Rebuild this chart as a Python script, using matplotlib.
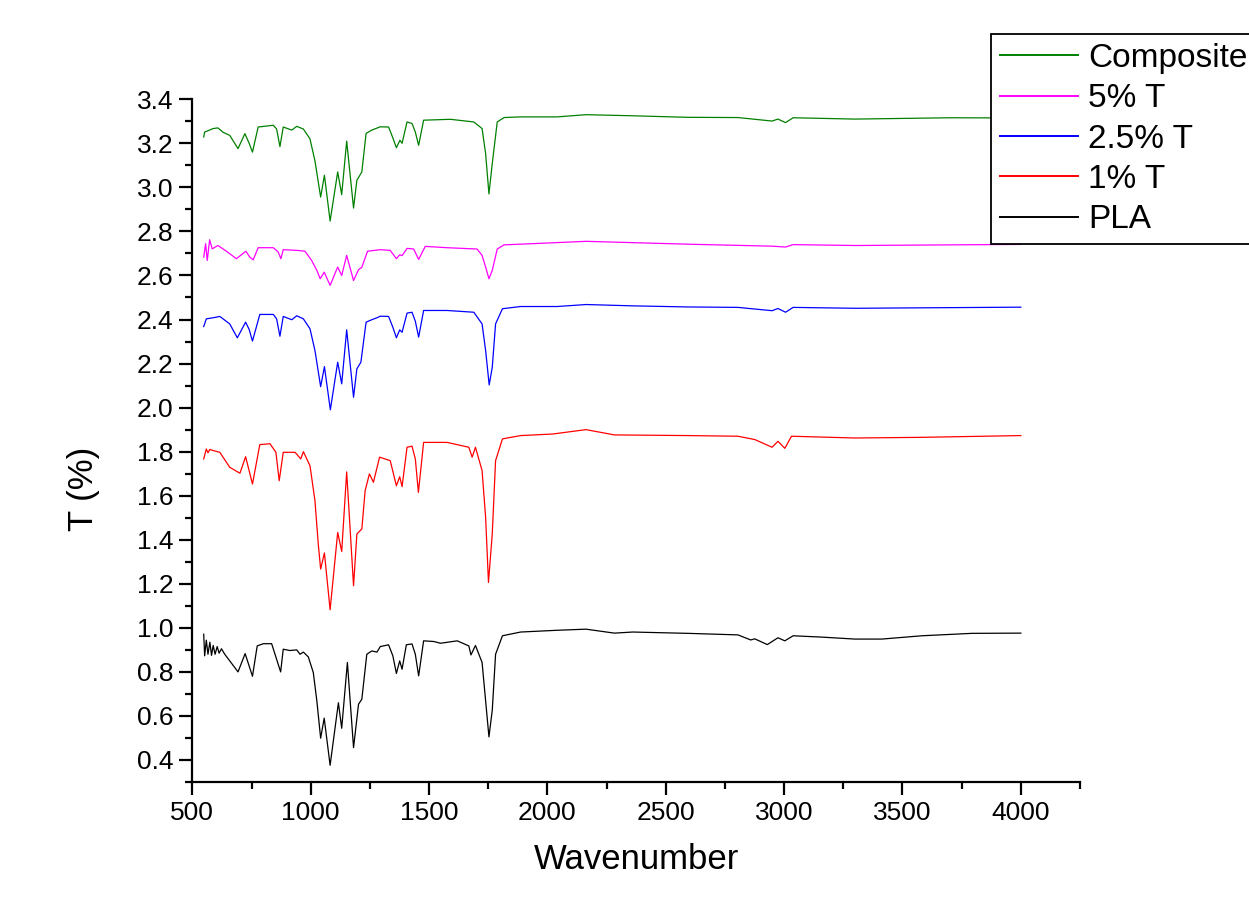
import matplotlib
matplotlib.use("Agg")
import matplotlib.pyplot as plt
from matplotlib.ticker import MultipleLocator

plt.rcParams['font.family'] = ['Liberation Sans', 'DejaVu Sans']

# values (wavenumber, transmittance)
WN_PLA = [548, 552, 559, 566, 574, 581, 588, 596, 605, 613, 623, 637, 658, 693, 723,
          754, 774, 800, 835, 873, 884, 912, 941, 955, 969, 990, 1011, 1026, 1042, 1057,
          1082, 1117, 1131, 1155, 1181, 1202, 1216, 1237, 1258, 1280, 1294, 1329, 1347,
          1362, 1376, 1386, 1404, 1428, 1442, 1456, 1477, 1520, 1548, 1619, 1668, 1677,
          1696, 1724, 1739, 1753, 1767, 1781, 1810, 1887, 2042, 2163, 2283, 2360, 2593,
          2805, 2859, 2876, 2929, 2974, 3003, 3038, 3158, 3299, 3413, 3582, 3794, 4000]
T_PLA = [0.971, 0.873, 0.944, 0.88, 0.935, 0.875, 0.92, 0.88, 0.915, 0.885, 0.905, 0.88,
         0.85, 0.80, 0.883, 0.78, 0.918, 0.928, 0.928, 0.80, 0.903, 0.897, 0.90, 0.88,
         0.89, 0.868, 0.797, 0.668, 0.499, 0.59, 0.376, 0.66, 0.544, 0.843, 0.456, 0.653,
         0.676, 0.88, 0.895, 0.89, 0.915, 0.923, 0.873, 0.793, 0.85, 0.812, 0.923, 0.927,
         0.88, 0.782, 0.941, 0.938, 0.93, 0.941, 0.918, 0.877, 0.92, 0.843, 0.668, 0.505,
         0.626, 0.88, 0.964, 0.981, 0.989, 0.994, 0.976, 0.981, 0.975, 0.968, 0.945, 0.95,
         0.924, 0.955, 0.941, 0.964, 0.958, 0.949, 0.949, 0.964, 0.975, 0.976]

WN_1T = [548, 559, 566, 574, 588, 616, 658, 701, 725, 754, 785, 828, 853, 867, 884, 934,
         958, 969, 997, 1018, 1032, 1042, 1058, 1082, 1114, 1131, 1152, 1181, 1195, 1216,
         1230, 1248, 1265, 1291, 1336, 1362, 1376, 1386, 1407, 1428, 1442, 1455, 1477,
         1576, 1668, 1682, 1696, 1724, 1739, 1751, 1767, 1781, 1810, 1887, 2022, 2163,
         2283, 2593, 2805, 2876, 2949, 2974, 3003, 3031, 3299, 3582, 4000]
T_1T = [1.767, 1.812, 1.795, 1.81, 1.805, 1.797, 1.729, 1.702, 1.777, 1.653, 1.832, 1.836,
        1.797, 1.668, 1.797, 1.797, 1.767, 1.80, 1.736, 1.577, 1.38, 1.267, 1.34, 1.082,
        1.433, 1.347, 1.708, 1.191, 1.426, 1.449, 1.623, 1.699, 1.661, 1.775, 1.759, 1.645,
        1.686, 1.641, 1.82, 1.825, 1.767, 1.615, 1.842, 1.842, 1.82, 1.775, 1.82, 1.714,
        1.501, 1.206, 1.426, 1.759, 1.858, 1.873, 1.88, 1.90, 1.876, 1.873, 1.87, 1.855,
        1.82, 1.847, 1.815, 1.87, 1.862, 1.865, 1.873]

WN_25T = [548, 559, 588, 616, 658, 690, 725, 740, 754, 785, 842, 856, 870, 884, 920, 941,
          969, 997, 1018, 1042, 1058, 1083, 1114, 1131, 1152, 1181, 1195, 1212, 1234, 1258,
          1280, 1294, 1329, 1347, 1362, 1376, 1386, 1407, 1428, 1442, 1456, 1477, 1576,
          1689, 1724, 1739, 1754, 1767, 1781, 1810, 1887, 2042, 2163, 2360, 2593, 2805,
          2949, 2974, 3006, 3038, 3299, 4000]
T_25T = [2.368, 2.403, 2.408, 2.414, 2.38, 2.317, 2.388, 2.355, 2.302, 2.423, 2.423, 2.403,
         2.324, 2.414, 2.399, 2.417, 2.403, 2.358, 2.259, 2.095, 2.186, 1.99, 2.206, 2.108,
         2.353, 2.047, 2.176, 2.206, 2.388, 2.399, 2.408, 2.415, 2.414, 2.365, 2.317, 2.353,
         2.342, 2.429, 2.433, 2.392, 2.32, 2.441, 2.441, 2.433, 2.38, 2.259, 2.103, 2.183,
         2.38, 2.449, 2.459, 2.459, 2.468, 2.462, 2.457, 2.455, 2.44, 2.45, 2.433, 2.455,
         2.451, 2.456]

WN_5T = [548, 556, 563, 573, 584, 608, 644, 686, 726, 743, 757, 778, 842, 863, 874, 884,
         941, 976, 1004, 1026, 1040, 1057, 1082, 1114, 1131, 1152, 1181, 1202, 1216, 1240,
         1294, 1336, 1362, 1376, 1386, 1407, 1435, 1456, 1484, 1576, 1703, 1724, 1739,
         1753, 1767, 1788, 1817, 1930, 2163, 2593, 2949, 3006, 3038, 3299, 4000]
T_5T = [2.683, 2.744, 2.668, 2.762, 2.721, 2.736, 2.71, 2.676, 2.71, 2.683, 2.671, 2.726,
        2.726, 2.706, 2.676, 2.717, 2.714, 2.71, 2.668, 2.623, 2.585, 2.615, 2.555, 2.638,
        2.60, 2.691, 2.577, 2.626, 2.637, 2.71, 2.717, 2.714, 2.676, 2.694, 2.69, 2.723,
        2.72, 2.673, 2.732, 2.726, 2.72, 2.691, 2.638, 2.585, 2.623, 2.72, 2.739, 2.744,
        2.755, 2.742, 2.733, 2.729, 2.74, 2.736, 2.741]

WN_COMP = [548, 552, 588, 608, 630, 658, 693, 722, 740, 754, 778, 842, 856, 870, 884, 920,
           941, 969, 997, 1018, 1042, 1058, 1082, 1114, 1131, 1152, 1181, 1195, 1216, 1234,
           1258, 1294, 1329, 1347, 1362, 1377, 1386, 1407, 1428, 1442, 1456, 1477, 1590,
           1689, 1724, 1739, 1753, 1767, 1788, 1817, 1887, 2042, 2163, 2360, 2593, 2805,
           2949, 2974, 3006, 3038, 3299, 3700, 4000]
T_COMP = [3.229, 3.251, 3.267, 3.27, 3.25, 3.236, 3.176, 3.244, 3.20, 3.16, 3.274, 3.282,
          3.265, 3.185, 3.274, 3.26, 3.277, 3.265, 3.22, 3.12, 2.956, 3.055, 2.847, 3.07,
          2.967, 3.21, 2.906, 3.032, 3.07, 3.245, 3.26, 3.275, 3.274, 3.225, 3.18, 3.214,
          3.20, 3.297, 3.29, 3.251, 3.191, 3.305, 3.309, 3.297, 3.267, 3.153, 2.97, 3.108,
          3.297, 3.317, 3.32, 3.32, 3.33, 3.325, 3.318, 3.317, 3.301, 3.31, 3.294, 3.316,
          3.31, 3.316, 3.315]

fig = plt.figure(figsize=(12.49, 9.09), dpi=100)
ax = fig.add_axes([0.154, 0.1397, 0.7107, 0.7511])

l_pla, = ax.plot(WN_PLA, T_PLA, color='black', lw=0.9)
l_1, = ax.plot(WN_1T, T_1T, color='#FF0000', lw=0.9)
l_25, = ax.plot(WN_25T, T_25T, color='#0000FF', lw=0.9)
l_5, = ax.plot(WN_5T, T_5T, color='#FF00FF', lw=0.9)
l_c, = ax.plot(WN_COMP, T_COMP, color='#008000', lw=0.9)

ax.set_xlim(500, 4250)
ax.set_ylim(0.3, 3.4)
ax.xaxis.set_major_locator(MultipleLocator(500))
ax.xaxis.set_minor_locator(MultipleLocator(250))
ax.yaxis.set_major_locator(MultipleLocator(0.2))
ax.yaxis.set_minor_locator(MultipleLocator(0.1))
ax.yaxis.set_major_formatter(plt.FuncFormatter(lambda v, p: f"{v:.1f}"))

for s in ['top', 'right']:
    ax.spines[s].set_visible(False)
for s in ['left', 'bottom']:
    ax.spines[s].set_linewidth(1.6)

ax.tick_params(which='major', direction='out', length=9.5, width=1.6, labelsize=19, pad=4)
ax.tick_params(which='minor', direction='out', length=5, width=1.6)

ax.set_xlabel("Wavenumber", fontsize=25)
ax.set_ylabel("T (%)", fontsize=25)
ax.xaxis.set_label_coords(0.5, -0.089)
ax.yaxis.set_label_coords(-0.104, 0.43)

leg = fig.legend([l_c, l_5, l_25, l_1, l_pla],
                 ["Composite", "5% T", "2.5% T", "1% T", "PLA"],
                 loc='upper left', bbox_to_anchor=(0.7934, 0.9626),
                 fontsize=24, handlelength=2.35, handletextpad=0.3,
                 borderpad=0.27, borderaxespad=0, labelspacing=0.28,
                 fancybox=False, edgecolor='black', framealpha=1)
leg.get_frame().set_linewidth(1.3)
for h in leg.get_lines():
    h.set_linewidth(1.4)

fig.savefig("out.png", dpi=100)
